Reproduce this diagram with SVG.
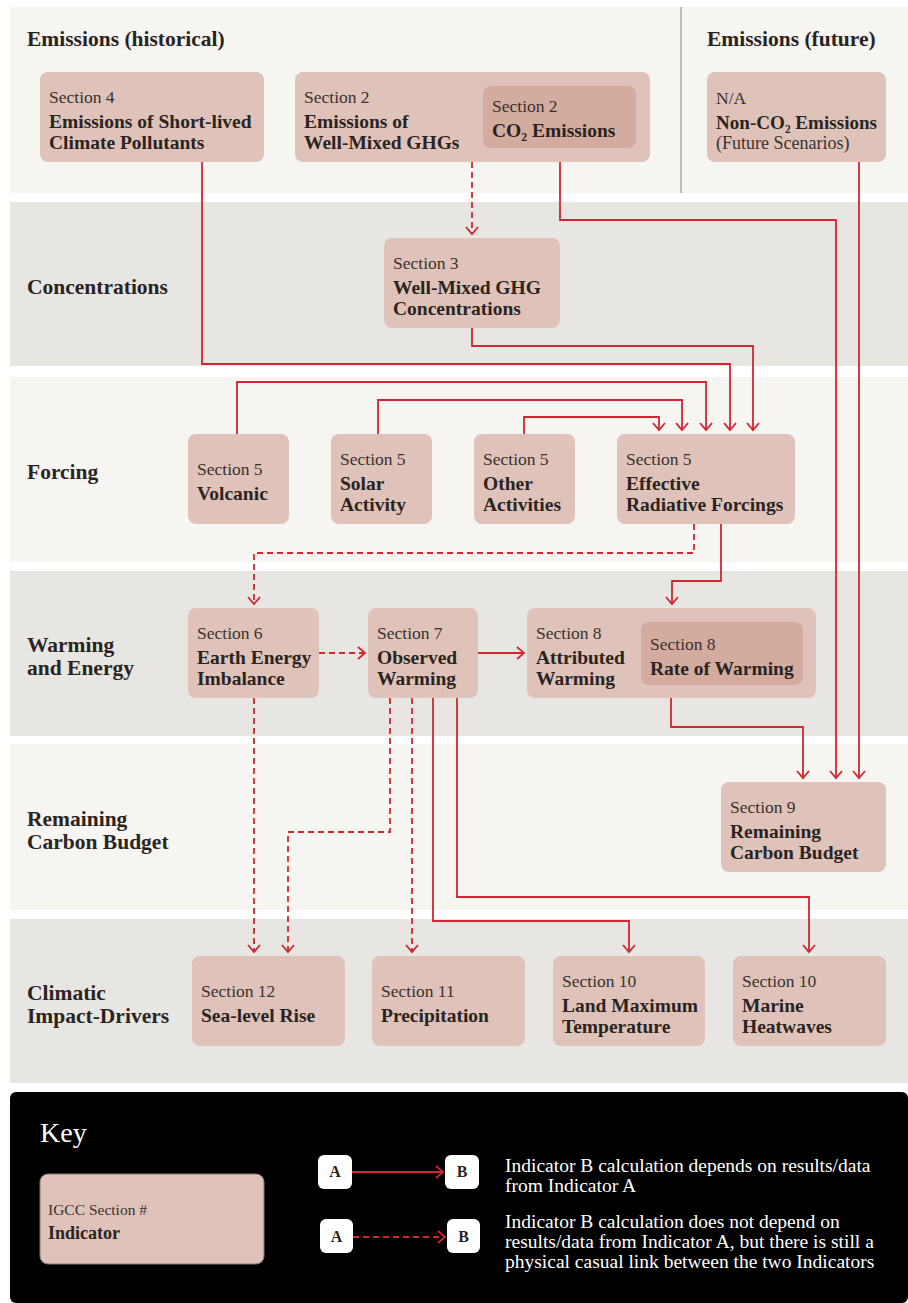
<svg xmlns="http://www.w3.org/2000/svg" width="908" height="1303" viewBox="0 0 908 1303">
<defs>
<style>
.bl{fill:#f6f5f2}
.bd{fill:#e8e6e2}
.nd{fill:#dfc2b9}
.in{fill:#d3ab9f}
.t{font-family:"Liberation Serif","Times New Roman",serif;fill:#2a2421}
.h{font-size:21.5px;font-weight:bold}
.s{font-size:17.5px;fill:#3a322e}
.b{font-size:19.5px;font-weight:bold}
.sm{font-size:18px;fill:#3a322e}
.c{fill:none;stroke:#d22630;stroke-width:1.8;marker-end:url(#ah)}
.d{stroke-dasharray:6 4}
.kt{font-family:"Liberation Serif","Times New Roman",serif;fill:#ffffff;font-size:19.5px}
.ab{fill:#ffffff}
.abt{font-family:"Liberation Serif","Times New Roman",serif;fill:#2a2421;font-size:16px;font-weight:bold;text-anchor:middle}
</style>
<marker id="ah" viewBox="-8 -7 10 14" markerWidth="10" markerHeight="14" refX="0" refY="0" orient="auto" markerUnits="userSpaceOnUse">
<path d="M-7,-6 L0,0 L-7,6" fill="none" stroke="#d22630" stroke-width="1.8"/>
</marker>
</defs>

<g id="bands">
<rect class="bl" x="10" y="7" width="898" height="186"/>
<line x1="681" y1="7" x2="681" y2="193" stroke="#9a9794" stroke-width="1.2"/>
<rect class="bd" x="10" y="202" width="898" height="164"/>
<rect class="bl" x="10" y="377" width="898" height="185"/>
<rect class="bd" x="10" y="571" width="898" height="165"/>
<rect class="bl" x="10" y="744" width="898" height="166"/>
<rect class="bd" x="10" y="919" width="898" height="164"/>
</g>

<g id="row-labels">
<text class="t h" x="27" y="46">Emissions (historical)</text>
<text class="t h" x="707" y="46">Emissions (future)</text>
<text class="t h" x="27" y="294">Concentrations</text>
<text class="t h" x="27" y="479">Forcing</text>
<text class="t h" x="27" y="652">Warming</text>
<text class="t h" x="27" y="675">and Energy</text>
<text class="t h" x="27" y="826">Remaining</text>
<text class="t h" x="27" y="849">Carbon Budget</text>
<text class="t h" x="27" y="1000">Climatic</text>
<text class="t h" x="27" y="1023">Impact-Drivers</text>
</g>

<g id="connectors">
<path class="c" d="M202,162 V364 H730 V430"/>
<path class="c" d="M472,328 V346 H753 V430"/>
<path class="c" d="M237,434 V382 H706 V430"/>
<path class="c" d="M378,434 V400 H682 V430"/>
<path class="c" d="M524,434 V417 H659 V430"/>
<path class="c d" d="M472,162 V234"/>
<path class="c" d="M560,148 V220 H836 V778"/>
<path class="c" d="M859,162 V778"/>
<path class="c d" d="M694,524 V553 H254 V604"/>
<path class="c" d="M721,524 V581 H672 V604"/>
<path class="c d" d="M319,653 H365"/>
<path class="c" d="M478,653 H524"/>
<path class="c" d="M671,698 V727 H803 V778"/>
<path class="c d" d="M254,698 V952"/>
<path class="c d" d="M390,698 V832 H288 V952"/>
<path class="c d" d="M412,698 V952"/>
<path class="c" d="M433,698 V921 H629 V952"/>
<path class="c" d="M457,698 V897 H809 V952"/>
</g>

<g id="n-slcp">
<rect class="nd" x="40" y="72" width="224" height="90" rx="8"/>
<text class="t s" x="49" y="103">Section 4</text>
<text class="t b" x="49" y="128">Emissions of Short-lived</text>
<text class="t b" x="49" y="149">Climate Pollutants</text>
</g>
<g id="n-wmghg">
<rect class="nd" x="295" y="72" width="355" height="90" rx="8"/>
<text class="t s" x="304" y="103">Section 2</text>
<text class="t b" x="304" y="128">Emissions of</text>
<text class="t b" x="304" y="149">Well-Mixed GHGs</text>
</g>
<g id="n-co2">
<rect class="in" x="483" y="86" width="153" height="62" rx="8"/>
<text class="t s" x="492" y="112">Section 2</text>
<text class="t b" x="492" y="137">CO₂ Emissions</text>
</g>
<g id="n-nonco2">
<rect class="nd" x="707" y="72" width="179" height="90" rx="8"/>
<text class="t s" x="716" y="104">N/A</text>
<text class="t b" x="716" y="129" textLength="161" lengthAdjust="spacingAndGlyphs">Non-CO₂ Emissions</text>
<text class="t sm" x="716" y="149">(Future Scenarios)</text>
</g>
<g id="n-conc">
<rect class="nd" x="384" y="238" width="176" height="90" rx="8"/>
<text class="t s" x="393" y="269">Section 3</text>
<text class="t b" x="393" y="294">Well-Mixed GHG</text>
<text class="t b" x="393" y="315">Concentrations</text>
</g>
<g id="n-volcanic">
<rect class="nd" x="188" y="434" width="101" height="90" rx="8"/>
<text class="t s" x="197" y="475">Section 5</text>
<text class="t b" x="197" y="500">Volcanic</text>
</g>
<g id="n-solar">
<rect class="nd" x="331" y="434" width="101" height="90" rx="8"/>
<text class="t s" x="340" y="465">Section 5</text>
<text class="t b" x="340" y="490">Solar</text>
<text class="t b" x="340" y="511">Activity</text>
</g>
<g id="n-other">
<rect class="nd" x="474" y="434" width="101" height="90" rx="8"/>
<text class="t s" x="483" y="465">Section 5</text>
<text class="t b" x="483" y="490">Other</text>
<text class="t b" x="483" y="511">Activities</text>
</g>
<g id="n-erf">
<rect class="nd" x="617" y="434" width="178" height="90" rx="8"/>
<text class="t s" x="626" y="465">Section 5</text>
<text class="t b" x="626" y="490">Effective</text>
<text class="t b" x="626" y="511">Radiative Forcings</text>
</g>
<g id="n-eei">
<rect class="nd" x="188" y="608" width="131" height="90" rx="8"/>
<text class="t s" x="197" y="639">Section 6</text>
<text class="t b" x="197" y="664">Earth Energy</text>
<text class="t b" x="197" y="685">Imbalance</text>
</g>
<g id="n-obs">
<rect class="nd" x="368" y="608" width="110" height="90" rx="8"/>
<text class="t s" x="377" y="639">Section 7</text>
<text class="t b" x="377" y="664">Observed</text>
<text class="t b" x="377" y="685">Warming</text>
</g>
<g id="n-attr">
<rect class="nd" x="527" y="608" width="289" height="90" rx="8"/>
<text class="t s" x="536" y="639">Section 8</text>
<text class="t b" x="536" y="664">Attributed</text>
<text class="t b" x="536" y="685">Warming</text>
</g>
<g id="n-rate">
<rect class="in" x="641" y="622" width="162" height="63" rx="8"/>
<text class="t s" x="650" y="650">Section 8</text>
<text class="t b" x="650" y="675">Rate of Warming</text>
</g>
<g id="n-rcb">
<rect class="nd" x="721" y="782" width="165" height="90" rx="8"/>
<text class="t s" x="730" y="813">Section 9</text>
<text class="t b" x="730" y="838">Remaining</text>
<text class="t b" x="730" y="859">Carbon Budget</text>
</g>
<g id="n-slr">
<rect class="nd" x="192" y="956" width="153" height="90" rx="8"/>
<text class="t s" x="201" y="997">Section 12</text>
<text class="t b" x="201" y="1022">Sea-level Rise</text>
</g>
<g id="n-precip">
<rect class="nd" x="372" y="956" width="153" height="90" rx="8"/>
<text class="t s" x="381" y="997">Section 11</text>
<text class="t b" x="381" y="1022">Precipitation</text>
</g>
<g id="n-lmt">
<rect class="nd" x="553" y="956" width="152" height="90" rx="8"/>
<text class="t s" x="562" y="987">Section 10</text>
<text class="t b" x="562" y="1012">Land Maximum</text>
<text class="t b" x="562" y="1033">Temperature</text>
</g>
<g id="n-mhw">
<rect class="nd" x="733" y="956" width="153" height="90" rx="8"/>
<text class="t s" x="742" y="987">Section 10</text>
<text class="t b" x="742" y="1012">Marine</text>
<text class="t b" x="742" y="1033">Heatwaves</text>
</g>

<g id="key">
<rect x="10" y="1092" width="898" height="211" rx="6" fill="#000000"/>
<text class="kt" x="40" y="1142" style="font-size:28px">Key</text>
<rect class="nd" x="40" y="1174" width="224" height="90" rx="8" stroke="#8a7a74" stroke-width="1"/>
<text class="t" x="48" y="1215" style="font-size:15.5px;fill:#3a322e">IGCC Section #</text>
<text class="t" x="48" y="1239" style="font-size:18px;font-weight:bold">Indicator</text>
<rect class="ab" x="318" y="1155" width="34" height="34" rx="6"/>
<text class="abt" x="335" y="1177">A</text>
<rect class="ab" x="445" y="1155" width="34" height="34" rx="6"/>
<text class="abt" x="462" y="1177">B</text>
<path class="c" d="M352,1172 H443"/>
<rect class="ab" x="320" y="1219" width="33" height="34" rx="6"/>
<text class="abt" x="336.5" y="1242">A</text>
<rect class="ab" x="447" y="1219" width="33" height="34" rx="6"/>
<text class="abt" x="463.5" y="1242">B</text>
<path class="c d" d="M353,1237 H445"/>
<text class="kt" x="505" y="1172">Indicator B calculation depends on results/data</text>
<text class="kt" x="505" y="1192">from Indicator A</text>
<text class="kt" x="505" y="1228">Indicator B calculation does not depend on</text>
<text class="kt" x="505" y="1248">results/data from Indicator A, but there is still a</text>
<text class="kt" x="505" y="1268">physical casual link between the two Indicators</text>
</g>
</svg>
